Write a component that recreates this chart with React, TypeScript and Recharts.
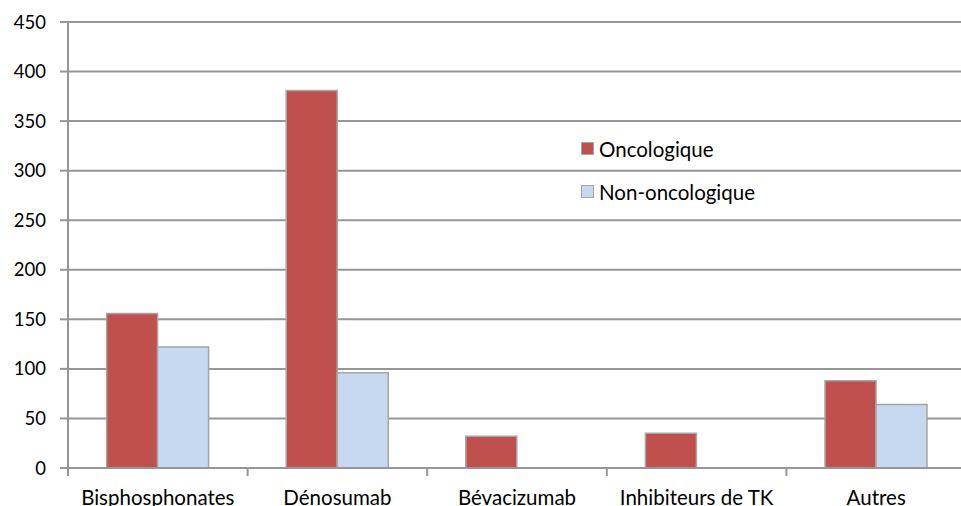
import { BarChart, Bar, XAxis, YAxis, CartesianGrid } from 'recharts';

const categories = ['Bisphosphonates', 'Dénosumab', 'Bévacizumab', 'Inhibiteurs de TK', 'Autres'];
const oncologique = [156, 381, 32, 35, 88];
const nonOncologique = [122, 96, 0, 0, 64];
const yTicks = [0, 50, 100, 150, 200, 250, 300, 350, 400, 450];

const data = categories.map((name, i) => ({
  name,
  onco: oncologique[i],
  nonOnco: nonOncologique[i],
}));

const FONT = 'Lato, "Open Sans", sans-serif';
const AXIS = '#969696';

function CategoryTick(props: any) {
  const { x, y, payload } = props;
  const half = payload && payload.offset ? payload.offset : 89.7;
  return (
    <g>
      <line x1={x - half} y1={y - 8} x2={x - half} y2={y} stroke={AXIS} strokeWidth={2} />
      <text x={x} y={y + 29} textAnchor="middle" fill="#000" fontSize={20.5} fontFamily={FONT}>
        {payload.value}
      </text>
    </g>
  );
}

// legend sits inside the plot, as in the original
function LegendBox() {
  const items = [
    { label: 'Oncologique', color: '#C0504D' },
    { label: 'Non-oncologique', color: '#C6D9F1' },
  ];
  return (
    <div style={{ position: 'absolute', left: 581, top: 127, fontFamily: FONT, fontSize: 20.5, color: '#000' }}>
      {items.map((it) => (
        <div key={it.label} style={{ display: 'flex', alignItems: 'center', height: 43 }}>
          <span
            style={{
              display: 'inline-block',
              width: 11,
              height: 11,
              background: it.color,
              border: '1.5px solid #A6A6A6',
              marginRight: 5,
            }}
          />
          <span>{it.label}</span>
        </div>
      ))}
    </div>
  );
}

export default function App() {
  return (
    <div style={{ position: 'absolute', left: 0, top: 0, width: 961, height: 506, overflow: 'hidden', background: '#fff' }}>
      <BarChart
        width={966}
        height={506}
        data={data}
        margin={{ top: 22, right: 0, bottom: 0, left: 0 }}
        barCategoryGap="21.5%"
        barGap={0}
      >
        <CartesianGrid vertical={false} stroke={AXIS} strokeWidth={2} />
        <XAxis
          dataKey="name"
          height={38}
          axisLine={{ stroke: AXIS, strokeWidth: 2 }}
          tickLine={false}
          tick={<CategoryTick />}
          interval={0}
        />
        <YAxis
          width={68}
          domain={[0, 450]}
          ticks={yTicks}
          interval={0}
          axisLine={{ stroke: AXIS, strokeWidth: 2 }}
          tickLine={{ stroke: AXIS, strokeWidth: 2 }}
          tickSize={8}
          tickMargin={14}
          tick={{ fill: '#000', fontSize: 18.5, fontFamily: FONT }}
        />
        <Bar dataKey="onco" name="Oncologique" fill="#C0504D" stroke="#A6A6A6" strokeWidth={1.5} isAnimationActive={false} />
        <Bar dataKey="nonOnco" name="Non-oncologique" fill="#C6D9F1" stroke="#A6A6A6" strokeWidth={1.5} isAnimationActive={false} />
      </BarChart>
      <LegendBox />
    </div>
  );
}
